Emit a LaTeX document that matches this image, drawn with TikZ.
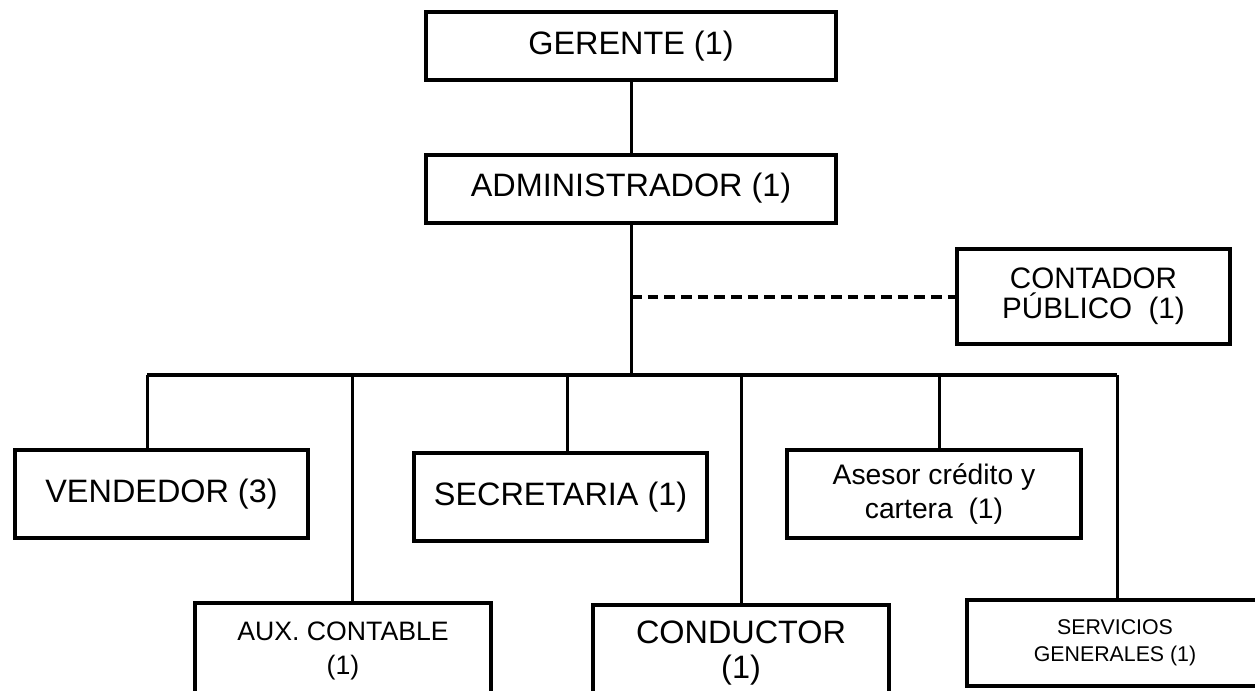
\documentclass[tikz,border=0pt]{standalone}
\usepackage{fontspec}
\setmainfont{Liberation Sans}
\usetikzlibrary{positioning}

\begin{document}
\begin{tikzpicture}[x=0.75pt, y=-0.75pt]
        \tikzstyle{box} = [rectangle, draw, line width=3pt, fill=white, inner sep=0pt,
            align=center, font=\fontsize{24.3}{27}\selectfont]
        \tikzstyle{wide} = [box, minimum width=307.5pt, minimum height=51pt]
        \tikzstyle{unit} = [box, minimum width=220pt, minimum height=66pt]
        \tikzstyle{low} = [box, minimum width=222pt, minimum height=72pt]
        \tikzstyle{line} = [draw, line width=2.25pt]

        \useasboundingbox (0,0) rectangle (1255,690);
        \clip (0,0) rectangle (1255,690);

        \node [wide] (gerente) at (631,46) {GERENTE (1)};
        \node [wide] (admin) at (631,188.5) {ADMINISTRADOR (1)};
        \node [box, minimum width=205pt, minimum height=71pt,
            font=\fontsize{22.2}{22.5}\selectfont] (contador) at (1093.5,296.5) {CONTADOR\\P\'UBLICO~~(1)};

        \node [unit] (vendedor) at (161.5,494) {VENDEDOR (3)};
        \node [unit] (secretaria) at (560.5,497) {SECRETARIA (1)};
        \node [unit, font=\fontsize{21.2}{25.5}\selectfont] (asesor) at (934,494) {Asesor cr\'edito y\\cartera~~(1)};

        \node [low, font=\fontsize{20}{25.5}\selectfont] (aux) at (343,651) {AUX. CONTABLE\\(1)};
        \node [low, font=\fontsize{24.3}{26}\selectfont] (conductor) at (741,653) {CONDUCTOR\\(1)};
        \node [low, minimum height=64.5pt, font=\fontsize{16}{20}\selectfont] (servicios) at (1115,643) {SERVICIOS\\GENERALES (1)};

        \coordinate (bus) at (631,375);
        \coordinate (b1) at (147,375);
        \coordinate (b2) at (352,375);
        \coordinate (b3) at (567,375);
        \coordinate (b4) at (741,375);
        \coordinate (b5) at (939,375);
        \coordinate (b6) at (1117,375);
        \coordinate (side) at (admin.south |- contador.west);

        \path [line] (gerente) -- (admin);
        \path [line] (admin) -- (bus);
        \path [line, line width=3pt, dash pattern=on 8pt off 4.5pt] (side) -- (contador.west);
        \path [line, line width=3pt] (b1) -- (b6);
        \path [line] (b1) -- (b1 |- vendedor.north);
        \path [line] (b2) -- (b2 |- aux.north);
        \path [line] (b3) -- (b3 |- secretaria.north);
        \path [line] (b4) -- (b4 |- conductor.north);
        \path [line] (b5) -- (b5 |- asesor.north);
        \path [line] (b6) -- (b6 |- servicios.north);
    \end{tikzpicture}
\end{document}
